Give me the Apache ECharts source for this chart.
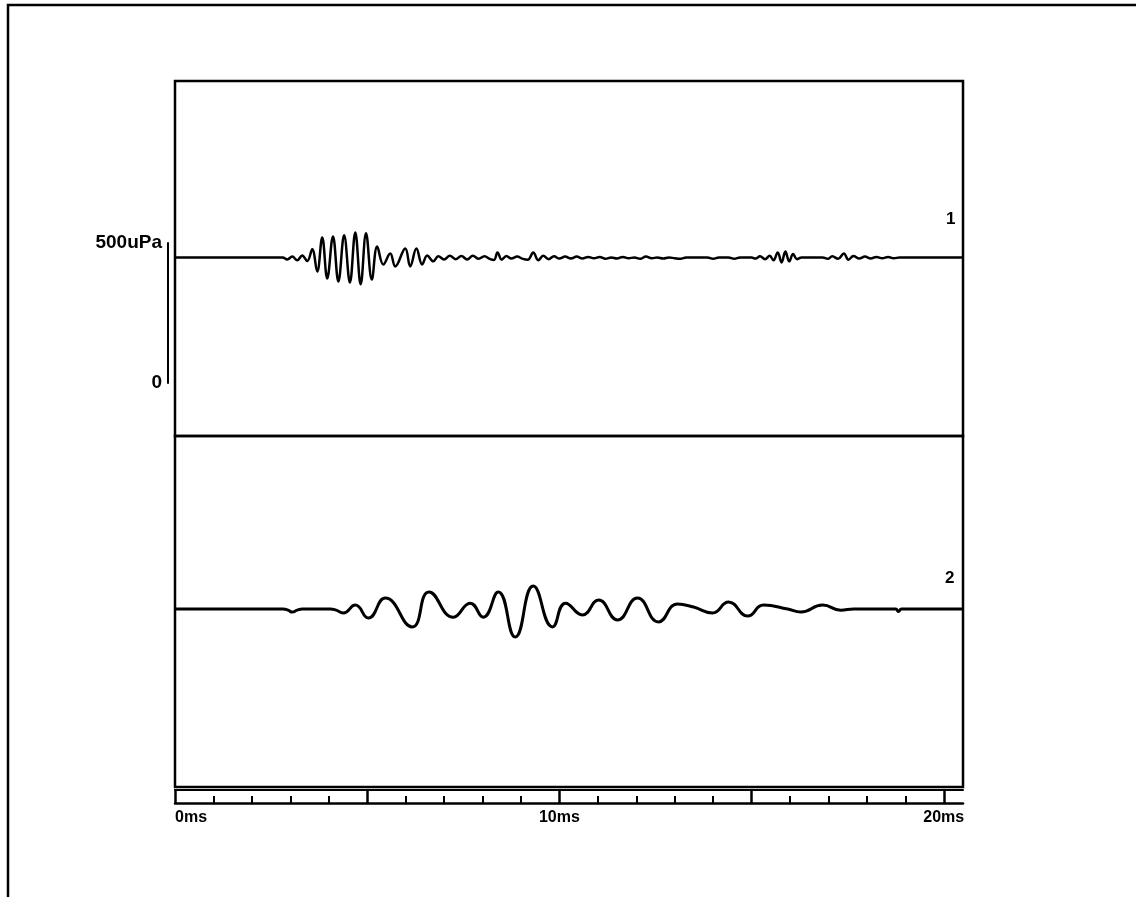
<!DOCTYPE html>
<html>
<head>
<meta charset="utf-8">
<title>Traces 1 and 2</title>
<script src="https://cdn.jsdelivr.net/npm/echarts@6/dist/echarts.min.js"></script>
<style>
  html, body { margin: 0; padding: 0; background: #fff; }
  #chart { width: 1136px; height: 897px; }
</style>
</head>
<body>
<div id="chart"></div>
<script>
// time in ms, pressure in uPa
const trace1 = [
  [0, 0], [2.80, 0], [2.92, -7], [3.05, 3], [3.18, -10], [3.31, 7], [3.44, -13],
  [3.57, 29], [3.70, -50], [3.83, 71], [3.96, -75], [4.11, 75], [4.25, -86],
  [4.40, 79], [4.55, -89], [4.69, 89], [4.83, -96], [4.97, 86], [5.12, -79],
  [5.26, 39], [5.42, -25], [5.60, 14], [5.73, -32], [5.99, 32], [6.12, -32],
  [6.28, 32], [6.43, -25], [6.56, 7], [6.72, -14], [6.85, 4], [7.00, -7],
  [7.15, 6], [7.30, -6], [7.45, 5], [7.60, -7], [7.75, 6], [7.90, -5],
  [8.05, 4], [8.20, -6], [8.30, -9], [8.39, 18], [8.50, -8], [8.62, 5],
  [8.75, -4], [8.90, 3], [9.05, -5], [9.18, -8], [9.32, 18], [9.45, -10],
  [9.58, 6], [9.72, -6], [9.86, 4], [10.00, -4], [10.15, 3], [10.30, -4],
  [10.45, 3], [10.60, -4], [10.75, 2], [10.90, -3], [11.05, 2], [11.20, -5],
  [11.35, 0], [11.50, -4], [11.65, 2], [11.80, -3], [11.95, 0], [12.10, -5],
  [12.25, 3], [12.40, -3], [12.55, 0], [12.70, -4], [12.85, 0], [13.00, -3],
  [13.15, -5], [13.30, 0], [13.85, 0], [14.00, -5], [14.15, 0], [14.40, 0],
  [14.55, -5], [14.70, 0], [15.00, 0], [15.10, -4], [15.22, 4], [15.35, -6],
  [15.47, 6], [15.57, -10], [15.68, 18], [15.78, -18], [15.88, 21], [15.98, -14],
  [16.08, 12], [16.18, -6], [16.30, 0], [16.85, 0], [16.98, -5], [17.10, 4],
  [17.25, -5], [17.40, 14], [17.52, -8], [17.65, 5], [17.80, -4], [17.95, 3],
  [18.10, -4], [18.25, 2], [18.40, -3], [18.55, 2], [18.70, -3], [18.85, 0],
  [20.5, 0]
];

const trace2 = [
  [0, 0], [2.81, 0], [2.94, -4], [3.05, -11], [3.18, -4], [3.31, 0],
  [4.04, 0], [4.19, -4], [4.38, -14], [4.69, 14], [5.03, -32], [5.47, 39],
  [6.17, -64], [6.61, 61], [7.24, -29], [7.68, 21], [8.02, -29], [8.41, 61],
  [8.85, -100], [9.32, 82], [9.82, -64], [10.16, 21], [10.60, -21],
  [11.02, 32], [11.51, -39], [12.03, 39], [12.58, -46], [13.07, 18],
  [13.49, 7], [13.98, -14], [14.40, 25], [14.90, -25], [15.31, 14],
  [15.94, 0], [16.28, -11], [16.85, 14], [17.32, -4], [17.66, 0],
  [18.75, 0], [18.82, -9], [18.90, 0], [20.5, 0]
];

const majorTicks = [0, 5, 10, 15, 20];
const minorTicks = [1, 2, 3, 4, 6, 7, 8, 9, 11, 12, 13, 14, 16, 17, 18, 19];
const tickLabels = [0, 10, 20];
const scaleBar = [0, 500];

const chart = echarts.init(document.getElementById('chart'));
const font = 'Liberation Sans, Arial, sans-serif';
const black = '#000';

const hiddenX = (grid) => ({
  type: 'value', gridIndex: grid, min: 0, max: 20.5, show: false
});

chart.setOption({
  animation: false,
  backgroundColor: '#fff',
  graphic: [{
    type: 'polyline',
    shape: { points: [[8, 897], [8, 5], [1136, 5]] },
    style: { stroke: black, lineWidth: 2.5, fill: null }
  }],
  grid: [
    { left: 175, top: 81, width: 788, height: 355, show: true, borderColor: black, borderWidth: 2.5 },
    { left: 175, top: 436, width: 788, height: 351, show: true, borderColor: black, borderWidth: 2.5 },
    { left: 168, top: 243, width: 1, height: 140 }
  ],
  xAxis: [
    hiddenX(0),
    {
      type: 'value', gridIndex: 1, min: 0, max: 20.5, position: 'bottom', offset: 16,
      axisLine: { onZero: false, lineStyle: { color: black, width: 2.5 } },
      axisTick: { inside: true, length: 14, customValues: majorTicks, lineStyle: { color: black, width: 2.5 } },
      axisLabel: {
        customValues: tickLabels, formatter: (v) => v + 'ms', alignMinLabel: 'left',
        color: black, fontFamily: font, fontWeight: 'bold', fontSize: 16, margin: 7
      },
      splitLine: { show: false }
    },
    {
      type: 'value', gridIndex: 1, min: 0, max: 20.5, position: 'bottom', offset: 16,
      axisLine: { show: false, onZero: false },
      axisTick: { inside: true, length: 7, customValues: minorTicks, lineStyle: { color: black, width: 2 } },
      axisLabel: { show: false },
      splitLine: { show: false }
    },
    {
      type: 'value', gridIndex: 1, min: 0, max: 20.5, position: 'bottom', offset: 3,
      axisLine: { onZero: false, lineStyle: { color: black, width: 2 } },
      axisTick: { show: false },
      axisLabel: { show: false },
      splitLine: { show: false }
    },
    { type: 'value', gridIndex: 2, min: 0, max: 1, show: false }
  ],
  yAxis: [
    { type: 'value', gridIndex: 0, min: -637.5, max: 630, show: false },
    { type: 'value', gridIndex: 1, min: -635.7, max: 617.9, show: false },
    {
      type: 'value', gridIndex: 2, min: scaleBar[0], max: scaleBar[1], interval: 500,
      axisLine: { show: true, onZero: false, lineStyle: { color: black, width: 2 } },
      axisTick: { show: false },
      splitLine: { show: false },
      axisLabel: {
        formatter: (v) => (v ? v + 'uPa' : '0'),
        color: black, fontFamily: font, fontWeight: 'bold', fontSize: 19, margin: 6
      }
    }
  ],
  series: [
    {
      name: '1', type: 'line', xAxisIndex: 0, yAxisIndex: 0, data: trace1,
      showSymbol: false, smooth: 0.4,
      lineStyle: { color: black, width: 2.5 },
      endLabel: {
        show: true, formatter: '1', offset: [-25, -38],
        color: black, fontFamily: font, fontWeight: 'bold', fontSize: 17
      }
    },
    {
      name: '2', type: 'line', xAxisIndex: 1, yAxisIndex: 1, data: trace2,
      showSymbol: false, smooth: 0.5,
      lineStyle: { color: black, width: 3 },
      endLabel: {
        show: true, formatter: '2', offset: [-26, -31],
        color: black, fontFamily: font, fontWeight: 'bold', fontSize: 17
      }
    }
  ]
});
</script>
</body>
</html>
